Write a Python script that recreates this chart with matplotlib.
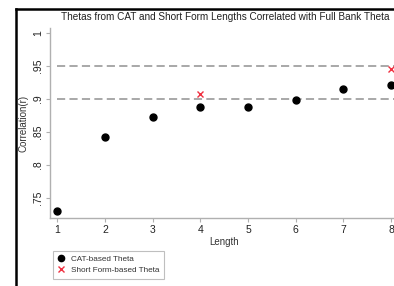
import matplotlib
matplotlib.use("Agg")
import matplotlib.pyplot as plt
from matplotlib.lines import Line2D

plt.rcParams['font.family'] = ['Liberation Sans', 'DejaVu Sans']

lengths = [1, 2, 3, 4, 5, 6, 7, 8]
cat_theta = [0.730, 0.843, 0.873, 0.888, 0.888, 0.898, 0.916, 0.921]
sf_lengths = [4, 8]
sf_theta = [0.907, 0.945]
ref_lines = [0.90, 0.95]
yticks = [0.75, 0.80, 0.85, 0.90, 0.95, 1.00]
ytick_labels = ['.75', '.8', '.85', '.9', '.95', '1']

W, H = 394, 286
fig = plt.figure(figsize=(W / 100, H / 100), dpi=100)
fig.patch.set_facecolor('white')

def fx(px):
    return px / W

def fy(py):
    return 1 - py / H

ax = fig.add_axes([fx(50), fy(218.3), fx(398.3) - fx(50), fy(28) - fy(218.3)])
ax.set_facecolor('white')
ax.set_xlim(0.847, 8.153)
ax.set_ylim(0.7187, 1.008)

for y in ref_lines:
    ax.plot([1, 8.3], [y, y], color='#a8a8a8', lw=1.4, dashes=(4.2, 2.2), zorder=1)

ax.plot(lengths, cat_theta, 'o', color='black', ms=5, zorder=3, clip_on=False)
ax.plot(sf_lengths, sf_theta, 'x', color='#f03040', ms=4.2, mew=1.0, zorder=3, clip_on=False)

for s in ['top', 'right']:
    ax.spines[s].set_visible(False)
for s in ['left', 'bottom']:
    ax.spines[s].set_color('#b0b0b0')
    ax.spines[s].set_linewidth(1.0)

ax.set_xticks(lengths)
ax.set_xticklabels([str(v) for v in lengths])
ax.set_yticks(yticks)
ax.set_yticklabels(ytick_labels, rotation=90, va='center')
ax.tick_params(axis='both', colors='#b0b0b0', length=3, width=0.8, labelcolor='#222222', labelsize=7.5, pad=2)

ax.set_xlabel('Length', fontsize=7, color='#333333', labelpad=1)
ax.set_ylabel('Correlation(r)', fontsize=7, color='#333333', labelpad=3)

fig.text(fx(225), fy(17), 'Thetas from CAT and Short Form Lengths Correlated with Full Bank Theta',
         ha='center', va='center', fontsize=7.2, color='#222222')

handles = [
    Line2D([], [], marker='o', ls='none', color='black', ms=4.5),
    Line2D([], [], marker='x', ls='none', color='#f03040', ms=4, mew=1.0),
]
leg = fig.legend(handles, ['CAT-based Theta', 'Short Form-based Theta'],
                 loc='upper left', bbox_to_anchor=(fx(53), fy(250.7)),
                 borderaxespad=0, fontsize=5.9, frameon=True, fancybox=False,
                 handlelength=0.8, handletextpad=0.8, borderpad=0.55, labelspacing=0.45)
leg.get_frame().set_edgecolor('#b0b0b0')
leg.get_frame().set_linewidth(0.8)
for t in leg.get_texts():
    t.set_color('#333333')

# outer frame lines (top and left)
fig.add_artist(Line2D([fx(15.5), fx(W + 5)], [fy(8.5), fy(8.5)], color='black', lw=1.8,
                      transform=fig.transFigure))
fig.add_artist(Line2D([fx(15.5), fx(15.5)], [fy(8.5), fy(H + 5)], color='black', lw=1.8,
                      transform=fig.transFigure))

fig.savefig('out.png', dpi=100, facecolor='white')
